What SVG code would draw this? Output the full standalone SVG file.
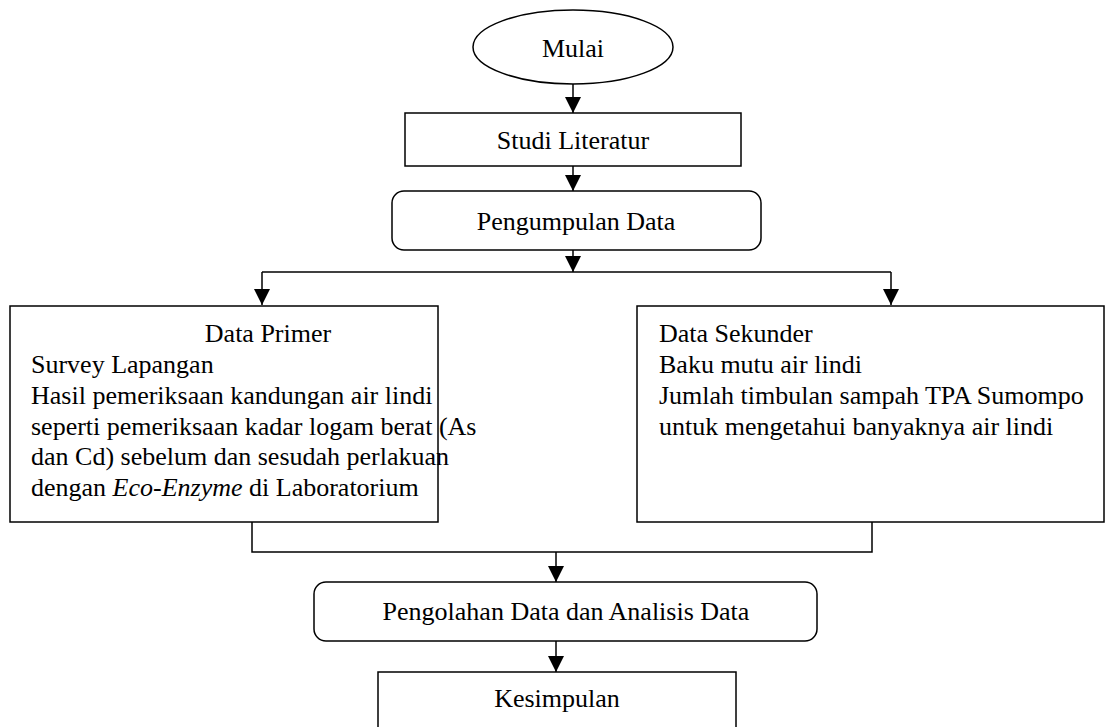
<svg xmlns="http://www.w3.org/2000/svg" width="1117" height="727" viewBox="0 0 1117 727">
<style>
.s{fill:#fff;stroke:#000;stroke-width:1.5}
.c{fill:none;stroke:#000;stroke-width:1.5}
text{font-family:"Liberation Serif","Times New Roman",serif;font-size:26px;fill:#000}
.m{text-anchor:middle}
</style>
<defs>
<marker id="ah" markerWidth="16" markerHeight="16" viewBox="0 0 16 16" refX="16" refY="8" orient="auto" markerUnits="userSpaceOnUse">
<path d="M0,0 L16,8 L0,16 Z" fill="#000"/>
</marker>
</defs>
<rect width="1117" height="727" fill="#fff"/>
<g id="connectors">
<path class="c" d="M573,84 V113" marker-end="url(#ah)"/>
<path class="c" d="M573,166 V191" marker-end="url(#ah)"/>
<path class="c" d="M573,250 V272" marker-end="url(#ah)"/>
<path class="c" d="M262,272 H891"/>
<path class="c" d="M262,272 V305" marker-end="url(#ah)"/>
<path class="c" d="M891,272 V305" marker-end="url(#ah)"/>
<path class="c" d="M252,522 V552 H872 V522"/>
<path class="c" d="M556,552 V582" marker-end="url(#ah)"/>
<path class="c" d="M556,641 V672" marker-end="url(#ah)"/>
</g>
<g id="mulai">
<ellipse class="s" cx="573" cy="47" rx="100" ry="37"/>
<text class="m" x="573" y="57">Mulai</text>
</g>
<g id="studi">
<rect class="s" x="405" y="113" width="336" height="53"/>
<text class="m" x="573" y="149">Studi Literatur</text>
</g>
<g id="pengumpulan">
<rect class="s" x="392" y="191" width="369" height="59" rx="12"/>
<text class="m" x="576" y="230">Pengumpulan Data</text>
</g>
<g id="primer">
<rect class="s" x="10" y="306" width="428" height="216"/>
<text class="m" x="268" y="342">Data Primer</text>
<text x="31" y="373">Survey Lapangan</text>
<text x="31" y="404">Hasil pemeriksaan kandungan air lindi</text>
<text x="31" y="435">seperti pemeriksaan kadar logam berat (As</text>
<text x="31" y="465">dan Cd) sebelum dan sesudah perlakuan</text>
<text x="31" y="496">dengan <tspan font-style="italic">Eco-Enzyme</tspan> di Laboratorium</text>
</g>
<g id="sekunder">
<rect class="s" x="637" y="306" width="467" height="216"/>
<text x="659" y="342">Data Sekunder</text>
<text x="659" y="373">Baku mutu air lindi</text>
<text x="659" y="404">Jumlah timbulan sampah TPA Sumompo</text>
<text x="659" y="435">untuk mengetahui banyaknya air lindi</text>
</g>
<g id="pengolahan">
<rect class="s" x="314" y="582" width="503" height="59" rx="12"/>
<text class="m" x="566" y="620">Pengolahan Data dan Analisis Data</text>
</g>
<g id="kesimpulan">
<rect class="s" x="378" y="672" width="358" height="80"/>
<text class="m" x="557" y="707">Kesimpulan</text>
</g>
</svg>
